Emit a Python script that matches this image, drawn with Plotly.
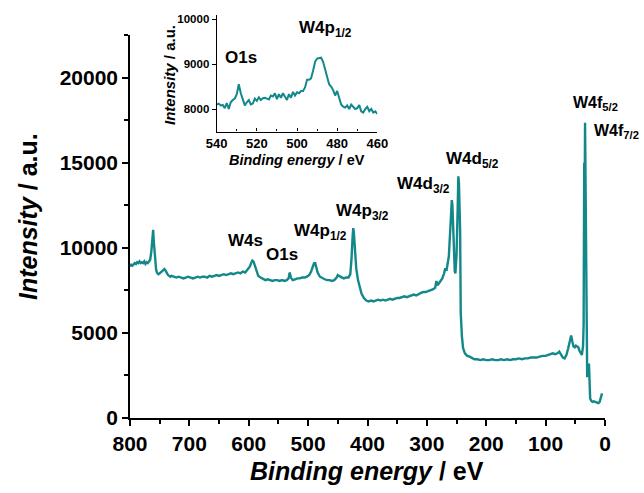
import plotly.graph_objects as go

# ---------------- data ----------------
survey_be = [800, 798, 796, 794, 792, 790, 788, 786, 784, 782, 780, 778, 776, 774, 772, 770, 768, 766, 764, 762, 761, 760, 758, 756, 754, 752, 750, 748, 746, 744, 742, 740, 738, 736, 734, 732, 730, 726, 722, 718, 714, 710, 706, 702, 698, 694, 690, 686, 682, 678, 674, 670, 666, 662, 658, 654, 650, 646, 642, 638, 634, 630, 626, 622, 618, 614, 610, 606, 602, 598, 596, 594, 592, 590, 588, 586, 584, 580, 576, 572, 568, 564, 560, 556, 552, 548, 544, 540, 536, 533, 531, 529, 526, 522, 518, 514, 510, 506, 502, 498, 495, 492, 490, 488, 486, 484, 480, 476, 472, 468, 464, 460, 456, 452, 450, 448, 444, 440, 436, 432, 429, 427, 425, 424, 423, 421, 419, 416, 413, 410, 406, 402, 398, 394, 390, 386, 382, 378, 374, 370, 366, 362, 358, 354, 350, 346, 342, 338, 334, 330, 326, 322, 318, 314, 310, 306, 302, 298, 294, 290, 286, 284, 282, 280, 277, 274, 271, 269, 267, 265, 263, 261, 259, 258, 257, 255, 253, 252, 250, 248, 247, 246, 244, 243, 241, 239, 236, 232, 228, 224, 220, 215, 210, 205, 200, 195, 190, 185, 180, 175, 170, 165, 160, 155, 150, 145, 140, 135, 130, 125, 120, 115, 110, 105, 100, 96, 92, 88, 84, 80, 77, 74, 71, 68, 65, 62, 59, 57, 55, 53, 51, 49, 47, 45, 43, 41, 39, 37, 36, 35, 34.4, 33.6, 33, 32, 31, 30, 29, 28, 27, 26, 25, 23, 21, 19, 17, 15, 13, 11, 9, 7, 5]
survey_int = [8900, 9000, 8950, 9050, 9100, 9050, 9150, 9100, 9200, 9100, 9150, 9100, 9200, 9050, 9150, 9100, 9200, 9300, 9800, 10900, 11050, 10400, 9200, 8700, 8500, 8450, 8500, 8550, 8600, 8700, 8750, 8650, 8500, 8400, 8350, 8300, 8350, 8300, 8250, 8300, 8250, 8200, 8250, 8300, 8250, 8200, 8250, 8300, 8250, 8300, 8300, 8250, 8350, 8300, 8350, 8400, 8350, 8400, 8450, 8400, 8450, 8500, 8450, 8500, 8550, 8500, 8600, 8550, 8700, 8900, 9100, 9250, 9200, 9000, 8700, 8500, 8350, 8250, 8150, 8100, 8150, 8100, 8050, 8100, 8100, 8050, 8100, 8050, 8100, 8200, 8550, 8250, 8100, 8150, 8200, 8200, 8250, 8250, 8300, 8400, 8600, 8900, 9100, 9100, 8800, 8550, 8300, 8200, 8150, 8100, 8100, 8050, 8100, 8250, 8400, 8350, 8250, 8200, 8250, 8250, 8450, 9300, 10700, 11150, 10900, 9800, 8800, 8100, 7600, 7300, 7050, 6900, 6850, 6900, 6850, 6900, 6950, 6900, 6950, 6900, 6950, 7000, 6950, 7000, 7050, 7050, 7100, 7150, 7100, 7150, 7200, 7250, 7200, 7300, 7350, 7400, 7400, 7450, 7500, 7550, 7650, 8050, 7800, 7900, 8100, 8200, 8500, 8800, 8650, 9000, 9500, 10800, 12500, 12800, 12500, 10000, 8600, 8500, 9600, 12500, 14200, 13800, 11000, 6200, 4800, 4100, 3800, 3650, 3600, 3500, 3450, 3450, 3400, 3450, 3400, 3400, 3450, 3400, 3400, 3450, 3400, 3450, 3400, 3450, 3450, 3500, 3450, 3500, 3500, 3550, 3550, 3550, 3600, 3650, 3650, 3700, 3750, 3800, 3750, 3800, 3900, 3750, 3550, 3500, 3700, 4100, 4700, 4850, 4500, 4200, 4150, 4250, 4200, 4150, 3950, 3800, 3700, 4200, 5500, 15000, 12000, 17350, 15000, 8000, 2600, 2400, 3100, 2600, 3200, 2400, 1150, 1000, 950, 980, 950, 920, 900, 880, 950, 1150, 1450]

inset_be = list(range(540, 459, -1))
inset_int = [8100, 8120, 8080, 8090, 8020, 8130, 8000, 8150, 8200, 8230, 8330, 8550, 8350, 8200, 8080, 8150, 8200, 8100, 8120, 8230, 8180, 8260, 8200, 8240, 8250, 8230, 8210, 8300, 8280, 8350, 8220, 8330, 8250, 8350, 8280, 8200, 8330, 8250, 8380, 8300, 8370, 8350, 8400, 8400, 8480, 8650, 8650, 8680, 8850, 9050, 9120, 9130, 9140, 9050, 8900, 8700, 8550, 8500, 8420, 8300, 8400, 8250, 8100, 8050, 8030, 8080, 8000, 8100, 8050, 8000, 8020, 8090, 7950, 7920, 8000, 8050, 7950, 8000, 7920, 7950, 7890]

main_xticks = [800, 700, 600, 500, 400, 300, 200, 100, 0]
main_yticks = [0, 5000, 10000, 15000, 20000]
inset_xticks = [540, 520, 500, 480, 460]
inset_yticks = [8000, 9000, 10000]

# peak labels: (text, binding energy, intensity, anchor, size)
peak_labels = [
    ("W4s", 606, 10400, "center", 17),
    ("O1s", 544, 9600, "center", 17),
    ("W4p<sub>1/2</sub>", 527, 10900, "left", 17),
    ("W4p<sub>3/2</sub>", 457, 12100, "left", 17),
    ("W4d<sub>3/2</sub>", 353, 13700, "left", 17),
    ("W4d<sub>5/2</sub>", 271, 15150, "left", 17),
    ("W4f<sub>5/2</sub>", 58, 18500, "left", 16),
    ("W4f<sub>7/2</sub>", 22, 16850, "left", 16),
]
inset_labels = [
    ("O1s", 528, 9150, "center"),
    ("W4p<sub>1/2</sub>", 500, 9780, "left"),
]

# ---------------- figure ----------------
W, H = 644, 493
TEAL = "#13888a"
FONT = "Liberation Sans"


def px(x):
    return x / W


def py(y):
    return 1 - y / H


fig = go.Figure()
fig.add_trace(go.Scatter(x=survey_be, y=survey_int, mode="lines",
                         line=dict(color=TEAL, width=2.4), xaxis="x", yaxis="y",
                         showlegend=False, hoverinfo="skip"))
fig.add_trace(go.Scatter(x=inset_be, y=inset_int, mode="lines",
                         line=dict(color=TEAL, width=2), xaxis="x2", yaxis="y2",
                         showlegend=False, hoverinfo="skip"))

axis_common = dict(showline=True, linecolor="black", linewidth=1.5, showgrid=False,
                   zeroline=False, ticks="outside", tickcolor="black", tickwidth=1.5,
                   automargin=False)

fig.update_layout(
    template="none",
    width=W, height=H, margin=dict(l=0, r=0, t=0, b=0, pad=0),
    paper_bgcolor="white", plot_bgcolor="rgba(0,0,0,0)",
    font=dict(family=FONT, color="black"),
    xaxis=dict(domain=[px(130), px(605)], range=[800, 0], tickvals=main_xticks,
               ticktext=[str(v) for v in main_xticks],
               ticklen=6, minor=dict(dtick=50, ticklen=4, ticks="outside", tickcolor="black", tickwidth=1.5),
               tickfont=dict(size=21, weight="bold"), anchor="y", **axis_common),
    yaxis=dict(domain=[py(418), py(35)], range=[0, 22500], tickvals=main_yticks,
               ticktext=[str(v) for v in main_yticks],
               ticklen=6, minor=dict(dtick=2500, ticklen=4, ticks="outside", tickcolor="black", tickwidth=1.5),
               tickfont=dict(size=21, weight="bold"), anchor="x", **axis_common),
    xaxis2=dict(domain=[px(216.7), px(377.3)], range=[540, 460], tickvals=inset_xticks,
                ticktext=[str(v) for v in inset_xticks],
                showline=True, linecolor="black", linewidth=1.2, showgrid=False, zeroline=False,
                ticks="inside", ticklen=3, tickcolor="black", tickwidth=1, automargin=False,
                minor=dict(dtick=10, ticklen=2, ticks="inside", tickcolor="black"),
                tickfont=dict(size=13, weight="bold"), anchor="y2"),
    yaxis2=dict(domain=[py(131.5), py(15)], range=[7500, 10090], tickvals=inset_yticks,
                ticktext=[str(v) for v in inset_yticks],
                showline=True, linecolor="black", linewidth=1.2, showgrid=False, zeroline=False,
                ticks="outside", ticklen=4, tickcolor="black", tickwidth=1, automargin=False,
                tickfont=dict(size=11.5, weight="bold"), anchor="x2"),
)

ann = []
for t, xv, yv, anc, sz in peak_labels:
    ann.append(dict(text=t, x=xv, y=yv, xref="x", yref="y", xanchor=anc, yanchor="middle",
                    showarrow=False, font=dict(size=sz, weight="bold", family=FONT)))
for t, xv, yv, anc in inset_labels:
    ann.append(dict(text=t, x=xv, y=yv, xref="x2", yref="y2", xanchor=anc, yanchor="middle",
                    showarrow=False, font=dict(size=17, weight="bold", family=FONT)))
# axis titles
ann.append(dict(text="<i>Binding energy</i> / eV", x=px(367), y=py(471), xref="paper", yref="paper",
                xanchor="center", yanchor="middle", showarrow=False,
                font=dict(size=25, weight="bold", family=FONT)))
ann.append(dict(text="<i>Intensity</i> / a.u.", x=px(28), y=py(217), xref="paper", yref="paper",
                xanchor="center", yanchor="middle", showarrow=False, textangle=-90,
                font=dict(size=25, weight="bold", family=FONT)))
ann.append(dict(text="<i>Binding energy</i> / eV", x=px(297), y=py(160), xref="paper", yref="paper",
                xanchor="center", yanchor="middle", showarrow=False,
                font=dict(size=14.5, weight="bold", family=FONT)))
ann.append(dict(text="<i>Intensity</i> / a.u.", x=px(170), y=py(75), xref="paper", yref="paper",
                xanchor="center", yanchor="middle", showarrow=False, textangle=-90,
                font=dict(size=15, weight="bold", family=FONT)))
fig.update_layout(annotations=ann)

fig.write_html("out.html", config={"displayModeBar": False},
               post_script="document.body.style.margin='0';document.body.style.padding='0';")
